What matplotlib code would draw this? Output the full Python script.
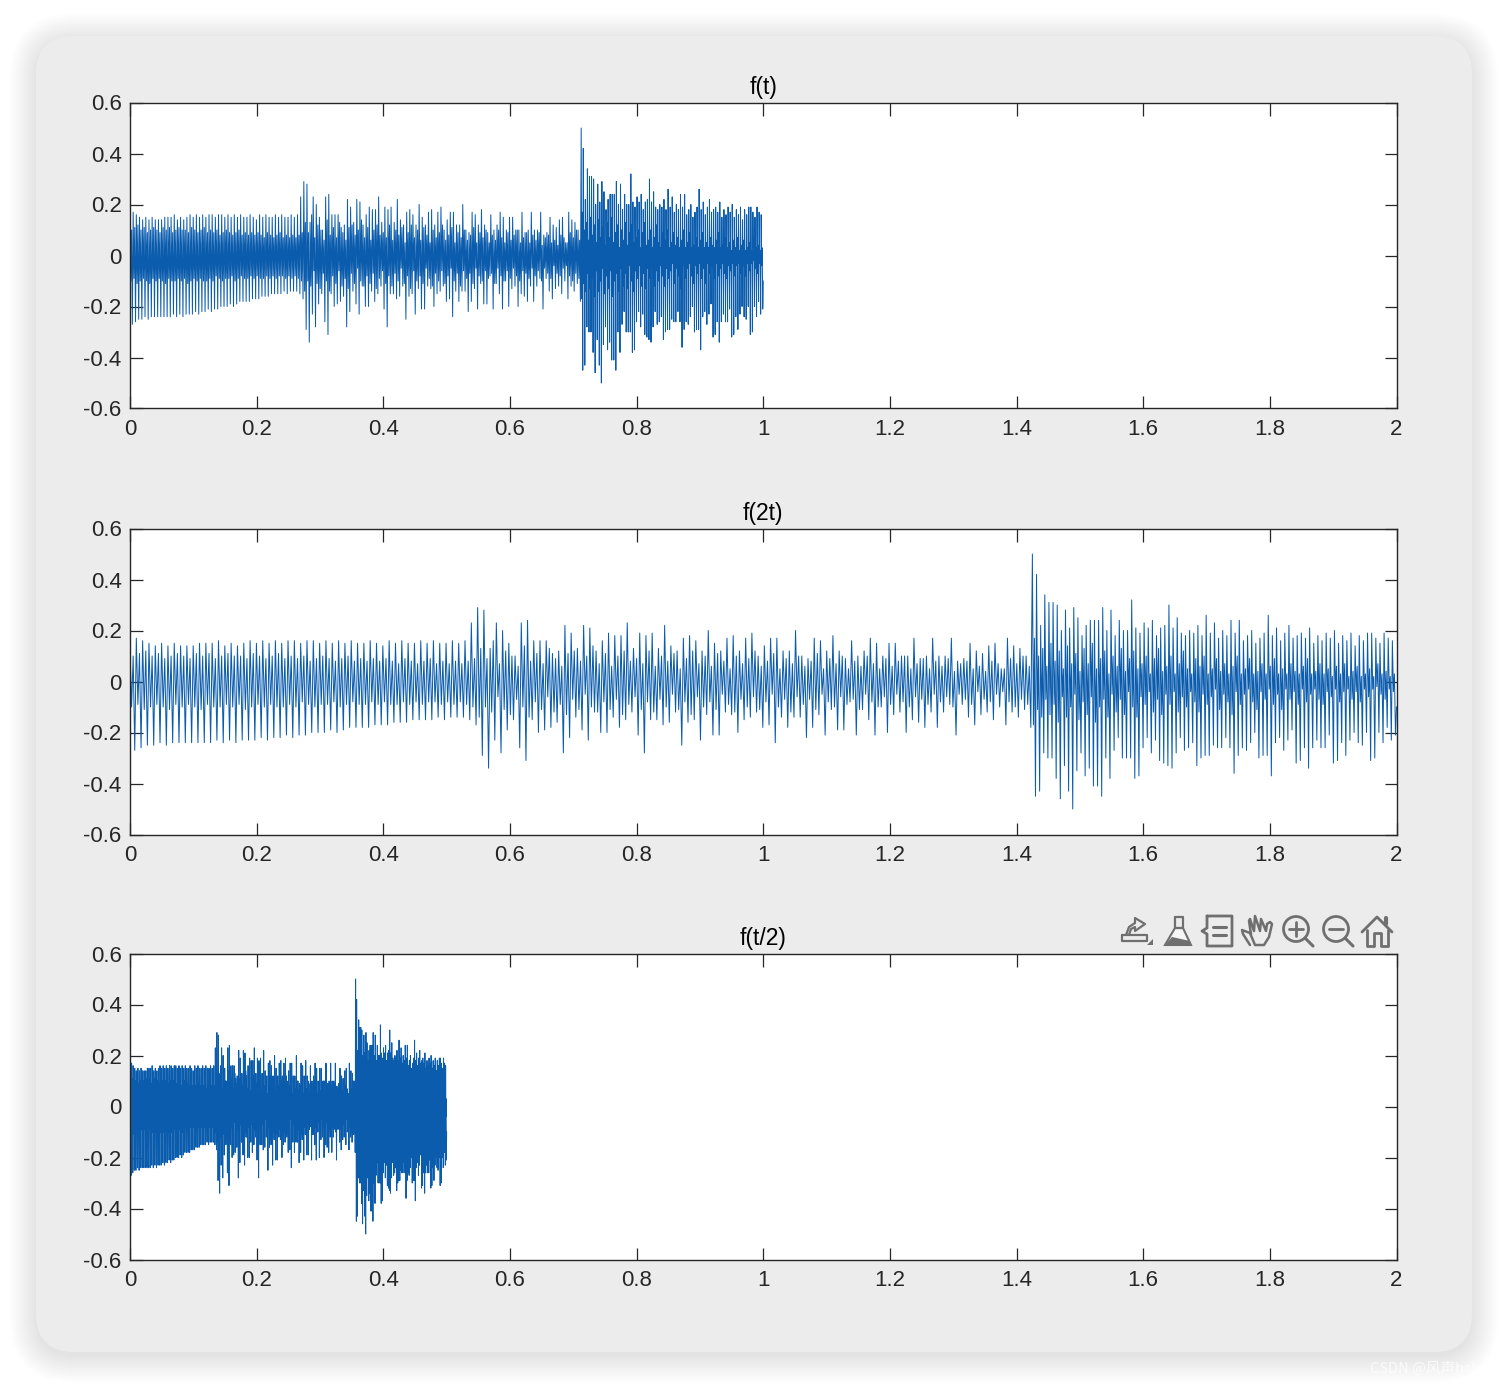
#matplotlib - f(t), f(2t), f(t/2) of one recorded signal, redrawn from the picture
import numpy as np
import matplotlib
matplotlib.use('Agg')
import matplotlib.pyplot as plt
from matplotlib.patches import FancyBboxPatch, Circle, Polygon

plt.rcParams['font.family'] = ['Liberation Sans', 'DejaVu Sans']
plt.rcParams['path.simplify'] = False

# signal read per pitch period: highest point, inner dip, inner rise, lowest point
# part 1: steady tone up to the first onset
peaks_1 = [.13,.17,.16,.15,.14,.15,.14,.15,.14,.14,
           .14,.15,.15,.15,.16,.14,.15,.14,.15,.16,
           .15,.16,.15,.16,.15,.16,.16,.15,.16,.16,
           .15,.16,.15,.16,.15,.16,.15,.15,.16,.15,
           .14,.16,.15,.16,.15,.15,.16,.15,.16,.15,
           .15,.16,.15,.16,.23]
dips_1 = [-.10,-.09,-.11,-.10,-.09,-.10,-.11,-.09,-.10,-.09,
          -.10,-.11,-.09,-.10,-.10,-.09,-.10,-.09,-.11,-.10,
          -.09,-.10,-.09,-.10,-.10,-.09,-.10,-.08,-.09,-.10,
          -.09,-.09,-.08,-.10,-.09,-.08,-.09,-.09,-.08,-.09,
          -.08,-.09,-.09,-.08,-.09,-.08,-.09,-.08,-.08,-.09,
          -.08,-.09,-.08,-.09,-.10]
rises_1 = [.10,.11,.12,.10,.11,.09,.10,.11,.10,.09,
           .11,.10,.11,.09,.10,.11,.10,.10,.09,.11,
           .10,.09,.10,.11,.09,.10,.09,.10,.08,.09,
           .10,.09,.08,.09,.10,.08,.09,.08,.09,.08,
           .09,.08,.07,.09,.08,.07,.08,.09,.07,.08,
           .07,.08,.07,.08,.09]
troughs_1 = [-.27,-.26,-.25,-.25,-.24,-.25,-.24,-.24,-.24,-.24,
             -.24,-.24,-.24,-.23,-.24,-.23,-.24,-.23,-.23,-.23,
             -.22,-.23,-.22,-.22,-.21,-.22,-.21,-.21,-.20,-.20,
             -.20,-.19,-.20,-.19,-.18,-.18,-.18,-.18,-.17,-.17,
             -.17,-.16,-.16,-.16,-.15,-.15,-.15,-.15,-.14,-.15,
             -.14,-.14,-.14,-.15,-.17]

# part 2: from the first onset to the big spike
peaks_2 = [.29,.28,.13,.23,.20,.15,.10,.23,.24,.16,
           .16,.16,.11,.12,.22,.19,.13,.22,.21,.12,
           .16,.19,.18,.18,.23,.13,.19,.18,.19,.13,
           .22,.14,.12,.17,.18,.16,.12,.20,.15,.12,
           .17,.18,.12,.17,.19,.10,.14,.17,.17,.12,
           .12,.20,.10,.09,.17,.16,.12,.18,.12,.09,
           .16,.10,.12,.17,.15,.10,.15,.15,.10,.10,
           .17,.09,.10,.17,.10,.10,.17,.08,.09,.15,
           .12,.11,.14,.15,.05,.17,.14,.13,.10]
dips_2 = [-.14,-.10,-.12,-.06,-.11,-.13,-.07,-.10,-.14,-.08,
          -.11,-.06,-.12,-.09,-.13,-.07,-.11,-.05,-.10,-.12,
          -.08,-.11,-.07,-.13,-.09,-.06,-.11,-.08,-.12,-.07,
          -.10,-.05,-.11,-.08,-.13,-.06,-.10,-.08,-.11,-.05,
          -.09,-.12,-.07,-.10,-.06,-.11,-.08,-.05,-.10,-.07,
          -.12,-.06,-.09,-.07,-.11,-.05,-.08,-.10,-.06,-.09,
          -.07,-.11,-.05,-.08,-.10,-.06,-.09,-.05,-.08,-.10,
          -.06,-.07,-.09,-.05,-.08,-.06,-.10,-.05,-.07,-.09,
          -.04,-.07,-.08,-.05,-.04,-.08,-.10,-.07,-.09]
rises_2 = [.13,.09,.16,.07,.12,.10,.06,.14,.08,.11,
           .07,.13,.09,.06,.11,.12,.08,.10,.14,.07,
           .11,.06,.10,.12,.08,.09,.07,.12,.06,.10,
           .08,.11,.05,.09,.12,.07,.10,.06,.11,.08,
           .05,.10,.07,.09,.12,.06,.08,.11,.05,.09,
           .07,.10,.06,.08,.11,.05,.09,.07,.10,.05,
           .08,.06,.10,.07,.05,.09,.06,.08,.10,.05,
           .07,.09,.05,.08,.06,.09,.04,.07,.08,.05,
           .06,.04,.08,.07,.05,.09,.07,.10,.06]
troughs_2 = [-.29,-.34,-.23,-.28,-.19,-.15,-.26,-.31,-.15,-.20,
             -.19,-.18,-.16,-.28,-.22,-.14,-.19,-.23,-.12,-.20,
             -.20,-.14,-.18,-.15,-.12,-.21,-.28,-.15,-.15,-.17,
             -.16,-.12,-.25,-.16,-.15,-.23,-.13,-.21,-.21,-.12,
             -.13,-.20,-.15,-.14,-.12,-.18,-.17,-.24,-.14,-.18,
             -.14,-.14,-.22,-.18,-.13,-.21,-.11,-.19,-.19,-.08,
             -.21,-.11,-.15,-.21,-.10,-.20,-.13,-.12,-.20,-.15,
             -.16,-.18,-.12,-.18,-.12,-.09,-.21,-.09,-.14,-.17,
             -.13,-.12,-.15,-.10,-.17,-.12,-.14,-.11,-.18]

# part 3: after the big spike, faster and louder
peaks_3 = [.50,.42,.22,.34,.31,.31,.30,.20,.28,.21,
           .29,.25,.18,.22,.24,.24,.24,.29,.20,.28,
           .18,.24,.20,.20,.32,.21,.19,.23,.21,.24,
           .18,.21,.22,.30,.21,.25,.19,.18,.20,.19,
           .22,.18,.26,.19,.23,.17,.20,.18,.24,.19,
           .24,.16,.18,.20,.15,.17,.19,.26,.18,.21,
           .16,.19,.22,.17,.18,.19,.17,.21,.15,.18,
           .16,.19,.17,.20,.15,.18,.16,.19,.14,.18,
           .16,.19,.19,.17,.15,.19,.17,.16]
dips_3 = [-.17,-.11,-.14,-.07,-.13,-.09,-.16,-.06,-.14,-.10,
          -.05,-.15,-.08,-.13,-.06,-.16,-.10,-.07,-.14,-.05,
          -.12,-.07,-.13,-.04,-.10,-.14,-.06,-.09,-.04,-.12,
          -.07,-.13,-.05,-.09,-.04,-.12,-.06,-.10,-.04,-.08,
          -.12,-.05,-.09,-.06,-.03,-.11,-.05,-.08,-.13,-.04,
          -.09,-.05,-.03,-.08,-.11,-.04,-.07,-.03,-.09,-.05,
          -.11,-.03,-.07,-.04,-.09,-.03,-.08,-.05,-.03,-.07,
          -.09,-.04,-.06,-.03,-.08,-.04,-.03,-.07,-.04,-.08,
          -.03,-.06,-.03,-.02,-.05,-.07,-.03,-.04]
rises_3 = [.17,.10,.13,.06,.15,.08,.12,.05,.14,.07,
           .11,.04,.13,.07,.15,.05,.09,.12,.03,.10,
           .06,.13,.04,.09,.12,.05,.07,.10,.03,.09,
           .13,.04,.06,.10,.03,.07,.12,.05,.03,.09,
           .06,.10,.03,.05,.09,.04,.07,.03,.06,.10,
           .03,.05,.09,.03,.04,.07,.03,.06,.09,.03,
           .05,.03,.07,.04,.03,.06,.09,.03,.04,.07,
           .03,.05,.02,.06,.03,.07,.02,.04,.06,.02,
           .03,.05,.02,.07,.03,.04,.02,.03]
troughs_3 = [-.45,-.43,-.28,-.30,-.30,-.38,-.46,-.33,-.43,-.50,
             -.35,-.28,-.37,-.34,-.41,-.41,-.45,-.30,-.38,-.27,
             -.22,-.30,-.30,-.30,-.38,-.37,-.26,-.22,-.28,-.23,
             -.31,-.32,-.33,-.34,-.28,-.22,-.27,-.26,-.24,-.33,
             -.30,-.29,-.29,-.25,-.26,-.26,-.22,-.26,-.36,-.29,
             -.26,-.27,-.24,-.20,-.30,-.29,-.29,-.37,-.24,-.22,
             -.27,-.23,-.19,-.32,-.31,-.26,-.34,-.26,-.23,-.26,
             -.26,-.21,-.32,-.31,-.24,-.29,-.23,-.20,-.24,-.25,
             -.20,-.31,-.30,-.20,-.24,-.18,-.23,-.21]

part_edges = [0.0, 0.2745, 0.7125, 1.0]
time_scales = [1, 2, 0.5]
titles = ['f(t)', 'f(2t)', 'f(t/2)']
xticks = [0, 0.2, 0.4, 0.6, 0.8, 1, 1.2, 1.4, 1.6, 1.8, 2]
xlabels = ['0', '0.2', '0.4', '0.6', '0.8', '1', '1.2', '1.4', '1.6', '1.8', '2']
yticks = [-0.6, -0.4, -0.2, 0, 0.2, 0.4, 0.6]
ylabels = ['-0.6', '-0.4', '-0.2', '0', '0.2', '0.4', '0.6']

parts = [(peaks_1, dips_1, rises_1, troughs_1),
         (peaks_2, dips_2, rises_2, troughs_2),
         (peaks_3, dips_3, rises_3, troughs_3)]
t_all = []
y_all = []
for k, part in enumerate(parts):
    y = np.column_stack(part).ravel()
    t_all.append(np.linspace(part_edges[k], part_edges[k + 1], len(y), endpoint=False))
    y_all.append(y)
t_all.append([1.0])
y_all.append([-.10])
t_all = np.concatenate(t_all)
y_all = np.concatenate(y_all)

W, H = 1508, 1388
fig = plt.figure(figsize=(W / 100, H / 100), dpi=100, facecolor='white')

# window behind the plots, in pixels
bg = fig.add_axes([0, 0, 1, 1], zorder=0)
bg.set_xlim(0, W)
bg.set_ylim(H, 0)
bg.axis('off')

for i in range(14):
    grow = 26 - i * 2
    bg.add_patch(FancyBboxPatch((36 - grow, 40 - grow), 1436 + 2 * grow, 1316 + 2 * grow,
                                boxstyle='round,pad=0,rounding_size=%d' % (38 + grow),
                                fc='black', ec='none', alpha=0.009))
bg.add_patch(FancyBboxPatch((36, 36), 1436, 1316, boxstyle='round,pad=0,rounding_size=38',
                            fc='#ececec', ec='none'))

# toolbar icons
ic = '#6f6f6f'
def stroke(xs, ys, lw=1.6):
    bg.plot(xs, ys, color=ic, lw=lw, solid_capstyle='round', solid_joinstyle='round')

stroke([1122, 1147, 1147, 1122, 1122], [935, 935, 941, 941, 935])
stroke([1126, 1129, 1135, 1135, 1145, 1135, 1135, 1131, 1129],
       [935, 927, 923, 918, 924, 931, 927, 929, 935])
bg.add_patch(Polygon([[1153, 939], [1153, 945], [1147, 945]], fc=ic, ec='none'))
stroke([1175, 1183, 1183, 1175, 1175], [917, 917, 928, 928, 917])
bg.add_patch(Polygon([[1175, 928], [1183, 928], [1191, 945], [1165, 945]], fc='#f6f6f6', ec=ic, lw=1.5))
bg.add_patch(Polygon([[1172, 937], [1190, 941], [1191, 945], [1165, 945]], fc=ic, ec='none'))
stroke([1207, 1232, 1232, 1207, 1207, 1202, 1207, 1207], [916, 916, 946, 946, 934, 931, 928, 916], 2)
stroke([1213, 1226], [927, 927], 2.2)
stroke([1213, 1226], [935, 935], 2.2)
stroke([1250, 1243, 1242, 1250, 1255, 1264, 1269, 1272, 1270, 1267, 1266, 1261, 1260, 1255, 1254, 1250, 1249, 1251],
       [945, 934, 930, 933, 945, 945, 937, 924, 922, 924, 931, 919, 931, 916, 931, 919, 921, 934], 1.8)
for cx, plus in [(1296, True), (1336, False)]:
    bg.add_patch(Circle((cx, 929), 12.5, fc='none', ec=ic, lw=2))
    stroke([cx + 9, cx + 17], [938, 946], 2.2)
    stroke([cx - 7, cx + 7], [929, 929], 2)
    if plus:
        stroke([cx, cx], [922, 936], 2)
stroke([1362, 1377, 1392], [932, 917, 932], 2)
stroke([1367, 1367, 1374, 1374, 1381, 1381, 1388, 1388],
       [930, 946, 946, 933, 933, 946, 946, 930], 2)
stroke([1386, 1386], [918, 924], 3)

bg.text(1370, 1369, 'CSDN @风声hch', color='white', alpha=0.75, fontsize=10.5,
        family=['Noto Sans CJK SC', 'DejaVu Sans'], va='center', clip_on=False)

tops = [102.5, 528.5, 953.5]
for top, scale, title in zip(tops, time_scales, titles):
    ax = fig.add_axes([130 / W, 1 - (top + 306) / H, 1266.5 / W, 306 / H], zorder=1)
    ax.plot(t_all * scale, y_all, color='#0b5cad', lw=0.72)
    ax.set_xlim(0, 2)
    ax.set_ylim(-0.6, 0.6)
    ax.set_xticks(xticks)
    ax.set_xticklabels(xlabels)
    ax.set_yticks(yticks)
    ax.set_yticklabels(ylabels)
    ax.tick_params(direction='in', top=True, right=True, length=9, width=0.9,
                   color='#262626', labelcolor='#262626', labelsize=16)
    ax.tick_params(axis='x', pad=7.5)
    ax.tick_params(axis='y', pad=6)
    for side in ax.spines.values():
        side.set_linewidth(1.0)
        side.set_color('#262626')
    ax.set_title(title, fontsize=16.5, pad=6, color='black')

fig.savefig('out.png', dpi=100)
